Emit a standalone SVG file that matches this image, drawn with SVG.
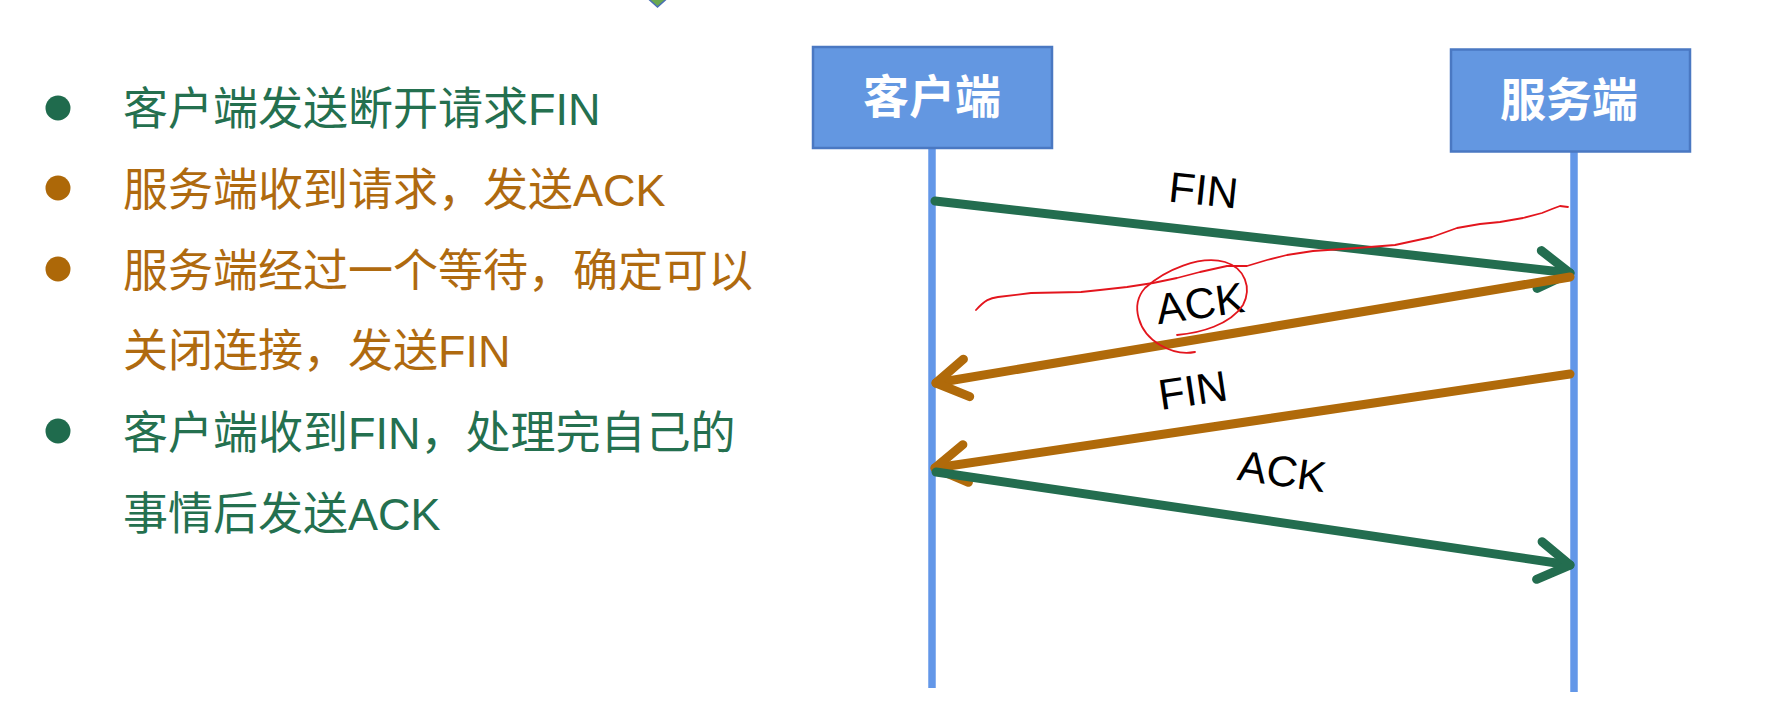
<svg xmlns="http://www.w3.org/2000/svg" width="1765" height="721" viewBox="0 0 1765 721">
  <style>
    .txt { font-family: "Liberation Sans", "Noto Sans CJK SC", sans-serif; font-size: 45px; }
    .g { fill: #24704f; }
    .b { fill: #af6a0f; }
    .box { fill: #6397e1; stroke: #4a78c2; stroke-width: 2.5; }
    .boxtxt { font-family: "Noto Sans CJK SC", sans-serif; font-size: 46px; font-weight: bold; fill: #ffffff; text-anchor: middle; }
    .life { stroke: #6397e8; stroke-width: 7.5; fill: none; }
    .arr { stroke-width: 9; fill: none; stroke-linecap: round; }
    .lbl { font-family: "Liberation Sans", Arial, sans-serif; font-size: 43px; fill: #000000; text-anchor: middle; }
    .red { stroke: #e3151d; stroke-width: 1.8; fill: none; stroke-linejoin: round; stroke-linecap: round; }
  </style>
  <defs>
    <marker id="mg" viewBox="-45 -30 60 60" markerWidth="60" markerHeight="60" refX="0" refY="0" orient="auto" markerUnits="userSpaceOnUse" overflow="visible">
      <path d="M -31 -19 L 0 0 L -31 19" fill="none" stroke="#236d4f" stroke-width="9" stroke-linecap="round" stroke-linejoin="round"/>
    </marker>
    <marker id="mb" viewBox="-45 -30 60 60" markerWidth="60" markerHeight="60" refX="0" refY="0" orient="auto" markerUnits="userSpaceOnUse" overflow="visible">
      <path d="M -31 -19 L 0 0 L -31 19" fill="none" stroke="#b06a0a" stroke-width="9" stroke-linecap="round" stroke-linejoin="round"/>
    </marker>
  </defs>
  <rect width="1765" height="721" fill="#ffffff"/>

  <!-- partial shape at top -->
  <path d="M 648 -1.5 L 657.5 7 L 667 -1.5 Z" fill="#6aa84f" stroke="#4a6fb5" stroke-width="1.5"/>

  <!-- bullet list -->
  <g id="bullets">
    <circle cx="58" cy="108" r="12.5" fill="#1f6b4d"/>
    <text class="txt g" x="123" y="125">客户端发送断开请求FIN</text>
    <circle cx="58" cy="188" r="12.5" fill="#ad6808"/>
    <text class="txt b" x="123" y="206">服务端收到请求，发送ACK</text>
    <circle cx="58" cy="269" r="12.5" fill="#ad6808"/>
    <text class="txt b" x="123" y="287">服务端经过一个等待，确定可以</text>
    <text class="txt b" x="123" y="367">关闭连接，发送FIN</text>
    <circle cx="58" cy="431" r="12.5" fill="#1f6b4d"/>
    <text class="txt g" x="123" y="449">客户端收到FIN，处理完自己的</text>
    <text class="txt g" x="123" y="530">事情后发送ACK</text>
  </g>

  <!-- nodes -->
  <g id="node-client">
    <line class="life" x1="932" y1="148" x2="932" y2="688"/>
    <rect class="box" x="813" y="47" width="239" height="101"/>
    <text class="boxtxt" x="932" y="113">客户端</text>
  </g>
  <g id="node-server">
    <line class="life" x1="1574" y1="151" x2="1574" y2="692"/>
    <rect class="box" x="1451" y="49.5" width="239" height="102"/>
    <text class="boxtxt" x="1569" y="116">服务端</text>
  </g>

  <!-- connectors -->
  <g id="connectors">
    <line class="arr" x1="935" y1="201" x2="1570" y2="273" stroke="#236d4f" marker-end="url(#mg)"/>
    <line class="arr" x1="1570" y1="277" x2="936" y2="383" stroke="#b06a0a" marker-end="url(#mb)"/>
    <line class="arr" x1="1570" y1="374" x2="935" y2="468" stroke="#b06a0a" marker-end="url(#mb)"/>
    <line class="arr" x1="936" y1="472" x2="1570" y2="565" stroke="#236d4f" marker-end="url(#mg)"/>
    <text class="lbl" transform="translate(1202 205) rotate(6)">FIN</text>
    <text class="lbl" transform="translate(1202 318) rotate(-8)">ACK</text>
    <text class="lbl" transform="translate(1195 405) rotate(-8.5)">FIN</text>
    <text class="lbl" transform="translate(1280 486) rotate(8)">ACK</text>
  </g>

  <!-- hand-drawn annotations -->
  <g id="annotations">
    <path class="red" d="M 976 310 C 985 300 990 298 998 297 L 1031 293 L 1081 292 L 1100 290 L 1127 287 L 1153 283 L 1177 278 L 1200 272 L 1227 266 L 1247 266 L 1267 260 L 1287 255 L 1313 251 L 1357 248 L 1395 245 L 1432 237 L 1457 228 L 1480 224 L 1500 222 L 1523 218 L 1542 213 L 1552 209 L 1560 206 L 1568 207"/>
    <path class="red" d="M 1177 335 C 1200 333 1230 325 1243 305 C 1252 288 1245 268 1225 262 C 1200 255 1165 270 1145 288 C 1130 305 1138 332 1160 345 C 1172 352 1185 354 1195 352"/>
  </g>
</svg>
